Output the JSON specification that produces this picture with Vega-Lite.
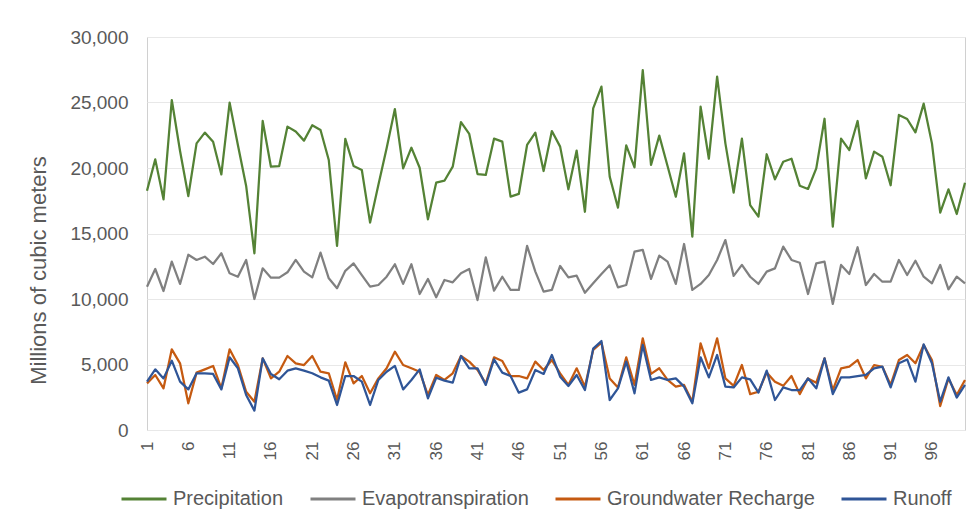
{
"$schema": "https://vega.github.io/schema/vega-lite/v6.json",
"width": 818, "height": 393,
"autosize": {"type": "none"},
"padding": {"left": 147, "top": 37, "right": 12, "bottom": 100},
"background": "white",
"config": {"view": {"stroke": "#d0d0d0", "strokeWidth": 1}, "font": "Liberation Sans"},
"data": {"values": [
{"t":1,"Precipitation":18270,"Evapotranspiration":10940,"Groundwater Recharge":3560,"Runoff":3690},
{"t":2,"Precipitation":20660,"Evapotranspiration":12290,"Groundwater Recharge":4200,"Runoff":4630},
{"t":3,"Precipitation":17610,"Evapotranspiration":10610,"Groundwater Recharge":3180,"Runoff":3940},
{"t":4,"Precipitation":25190,"Evapotranspiration":12850,"Groundwater Recharge":6160,"Runoff":5290},
{"t":5,"Precipitation":21300,"Evapotranspiration":11150,"Groundwater Recharge":5090,"Runoff":3690},
{"t":6,"Precipitation":17860,"Evapotranspiration":13380,"Groundwater Recharge":2040,"Runoff":3100},
{"t":7,"Precipitation":21880,"Evapotranspiration":12980,"Groundwater Recharge":4380,"Runoff":4330},
{"t":8,"Precipitation":22700,"Evapotranspiration":13230,"Groundwater Recharge":4630,"Runoff":4330},
{"t":9,"Precipitation":22010,"Evapotranspiration":12670,"Groundwater Recharge":4890,"Runoff":4280},
{"t":10,"Precipitation":19510,"Evapotranspiration":13490,"Groundwater Recharge":3180,"Runoff":3100},
{"t":11,"Precipitation":24990,"Evapotranspiration":11960,"Groundwater Recharge":6160,"Runoff":5550},
{"t":12,"Precipitation":21760,"Evapotranspiration":11700,"Groundwater Recharge":4960,"Runoff":4710},
{"t":13,"Precipitation":18630,"Evapotranspiration":12980,"Groundwater Recharge":2920,"Runoff":2670},
{"t":14,"Precipitation":13490,"Evapotranspiration":10000,"Groundwater Recharge":2160,"Runoff":1480},
{"t":15,"Precipitation":23590,"Evapotranspiration":12340,"Groundwater Recharge":5470,"Runoff":5470},
{"t":16,"Precipitation":20100,"Evapotranspiration":11630,"Groundwater Recharge":3940,"Runoff":4280},
{"t":17,"Precipitation":20150,"Evapotranspiration":11630,"Groundwater Recharge":4450,"Runoff":3870},
{"t":18,"Precipitation":23160,"Evapotranspiration":12040,"Groundwater Recharge":5650,"Runoff":4530},
{"t":19,"Precipitation":22780,"Evapotranspiration":12980,"Groundwater Recharge":5090,"Runoff":4710},
{"t":20,"Precipitation":22090,"Evapotranspiration":12090,"Groundwater Recharge":4960,"Runoff":4530},
{"t":21,"Precipitation":23260,"Evapotranspiration":11650,"Groundwater Recharge":5650,"Runoff":4330},
{"t":22,"Precipitation":22900,"Evapotranspiration":13540,"Groundwater Recharge":4450,"Runoff":4020},
{"t":23,"Precipitation":20610,"Evapotranspiration":11580,"Groundwater Recharge":4330,"Runoff":3770},
{"t":24,"Precipitation":14050,"Evapotranspiration":10820,"Groundwater Recharge":2290,"Runoff":1910},
{"t":25,"Precipitation":22220,"Evapotranspiration":12150,"Groundwater Recharge":5170,"Runoff":4120},
{"t":26,"Precipitation":20150,"Evapotranspiration":12720,"Groundwater Recharge":3560,"Runoff":4120},
{"t":27,"Precipitation":19850,"Evapotranspiration":11830,"Groundwater Recharge":4120,"Runoff":3690},
{"t":28,"Precipitation":15830,"Evapotranspiration":10940,"Groundwater Recharge":2800,"Runoff":1910},
{"t":29,"Precipitation":18700,"Evapotranspiration":11070,"Groundwater Recharge":3940,"Runoff":3820},
{"t":30,"Precipitation":21500,"Evapotranspiration":11700,"Groundwater Recharge":4710,"Runoff":4450},
{"t":31,"Precipitation":24500,"Evapotranspiration":12650,"Groundwater Recharge":5980,"Runoff":4890},
{"t":32,"Precipitation":19970,"Evapotranspiration":11150,"Groundwater Recharge":4960,"Runoff":3100},
{"t":33,"Precipitation":21550,"Evapotranspiration":12650,"Groundwater Recharge":4710,"Runoff":3820},
{"t":34,"Precipitation":20020,"Evapotranspiration":10380,"Groundwater Recharge":4450,"Runoff":4630},
{"t":35,"Precipitation":16080,"Evapotranspiration":11530,"Groundwater Recharge":2670,"Runoff":2420},
{"t":36,"Precipitation":18880,"Evapotranspiration":10130,"Groundwater Recharge":4200,"Runoff":3990},
{"t":37,"Precipitation":19030,"Evapotranspiration":11450,"Groundwater Recharge":3820,"Runoff":3770},
{"t":38,"Precipitation":20100,"Evapotranspiration":11270,"Groundwater Recharge":4330,"Runoff":3610},
{"t":39,"Precipitation":23510,"Evapotranspiration":11960,"Groundwater Recharge":5650,"Runoff":5650},
{"t":40,"Precipitation":22600,"Evapotranspiration":12290,"Groundwater Recharge":5220,"Runoff":4710},
{"t":41,"Precipitation":19540,"Evapotranspiration":9920,"Groundwater Recharge":4580,"Runoff":4710},
{"t":42,"Precipitation":19470,"Evapotranspiration":13180,"Groundwater Recharge":3560,"Runoff":3440},
{"t":43,"Precipitation":22240,"Evapotranspiration":10640,"Groundwater Recharge":5550,"Runoff":5390},
{"t":44,"Precipitation":22010,"Evapotranspiration":11700,"Groundwater Recharge":5270,"Runoff":4380},
{"t":45,"Precipitation":17810,"Evapotranspiration":10690,"Groundwater Recharge":4120,"Runoff":4120},
{"t":46,"Precipitation":18020,"Evapotranspiration":10690,"Groundwater Recharge":4120,"Runoff":2850},
{"t":47,"Precipitation":21760,"Evapotranspiration":14050,"Groundwater Recharge":3940,"Runoff":3100},
{"t":48,"Precipitation":22700,"Evapotranspiration":12090,"Groundwater Recharge":5220,"Runoff":4580},
{"t":49,"Precipitation":19770,"Evapotranspiration":10560,"Groundwater Recharge":4580,"Runoff":4280},
{"t":50,"Precipitation":22820,"Evapotranspiration":10690,"Groundwater Recharge":5340,"Runoff":5730},
{"t":51,"Precipitation":21630,"Evapotranspiration":12520,"Groundwater Recharge":4330,"Runoff":4070},
{"t":52,"Precipitation":18370,"Evapotranspiration":11650,"Groundwater Recharge":3440,"Runoff":3360},
{"t":53,"Precipitation":21330,"Evapotranspiration":11780,"Groundwater Recharge":4710,"Runoff":4200},
{"t":54,"Precipitation":16660,"Evapotranspiration":10480,"Groundwater Recharge":3310,"Runoff":3050},
{"t":55,"Precipitation":24550,"Evapotranspiration":11200,"Groundwater Recharge":6110,"Runoff":6210},
{"t":56,"Precipitation":26210,"Evapotranspiration":11910,"Groundwater Recharge":6670,"Runoff":6790},
{"t":57,"Precipitation":19340,"Evapotranspiration":12570,"Groundwater Recharge":3940,"Runoff":2290},
{"t":58,"Precipitation":16970,"Evapotranspiration":10890,"Groundwater Recharge":3250,"Runoff":3180},
{"t":59,"Precipitation":21730,"Evapotranspiration":11070,"Groundwater Recharge":5550,"Runoff":5220},
{"t":60,"Precipitation":20050,"Evapotranspiration":13610,"Groundwater Recharge":3440,"Runoff":2800},
{"t":61,"Precipitation":27480,"Evapotranspiration":13750,"Groundwater Recharge":7000,"Runoff":6490},
{"t":62,"Precipitation":20230,"Evapotranspiration":11530,"Groundwater Recharge":4280,"Runoff":3820},
{"t":63,"Precipitation":22470,"Evapotranspiration":13310,"Groundwater Recharge":4710,"Runoff":4020},
{"t":64,"Precipitation":20150,"Evapotranspiration":12850,"Groundwater Recharge":3820,"Runoff":3820},
{"t":65,"Precipitation":17810,"Evapotranspiration":11150,"Groundwater Recharge":3310,"Runoff":3940},
{"t":66,"Precipitation":21120,"Evapotranspiration":14200,"Groundwater Recharge":3440,"Runoff":3310},
{"t":67,"Precipitation":14760,"Evapotranspiration":10690,"Groundwater Recharge":2160,"Runoff":2040},
{"t":68,"Precipitation":24680,"Evapotranspiration":11150,"Groundwater Recharge":6620,"Runoff":5550},
{"t":69,"Precipitation":20710,"Evapotranspiration":11830,"Groundwater Recharge":4710,"Runoff":4020},
{"t":70,"Precipitation":26970,"Evapotranspiration":12980,"Groundwater Recharge":7000,"Runoff":5730},
{"t":71,"Precipitation":21880,"Evapotranspiration":14500,"Groundwater Recharge":3940,"Runoff":3310},
{"t":72,"Precipitation":18120,"Evapotranspiration":11760,"Groundwater Recharge":3370,"Runoff":3250},
{"t":73,"Precipitation":22240,"Evapotranspiration":12600,"Groundwater Recharge":4960,"Runoff":4020},
{"t":74,"Precipitation":17170,"Evapotranspiration":11700,"Groundwater Recharge":2740,"Runoff":3870},
{"t":75,"Precipitation":16290,"Evapotranspiration":11150,"Groundwater Recharge":2920,"Runoff":2850},
{"t":76,"Precipitation":21050,"Evapotranspiration":12090,"Groundwater Recharge":4380,"Runoff":4530},
{"t":77,"Precipitation":19130,"Evapotranspiration":12340,"Groundwater Recharge":3690,"Runoff":2290},
{"t":78,"Precipitation":20480,"Evapotranspiration":14000,"Groundwater Recharge":3370,"Runoff":3250},
{"t":79,"Precipitation":20710,"Evapotranspiration":12980,"Groundwater Recharge":4120,"Runoff":3050},
{"t":80,"Precipitation":18650,"Evapotranspiration":12770,"Groundwater Recharge":2740,"Runoff":3050},
{"t":81,"Precipitation":18400,"Evapotranspiration":10380,"Groundwater Recharge":3940,"Runoff":3940},
{"t":82,"Precipitation":19970,"Evapotranspiration":12720,"Groundwater Recharge":3610,"Runoff":3180},
{"t":83,"Precipitation":23760,"Evapotranspiration":12850,"Groundwater Recharge":5470,"Runoff":5470},
{"t":84,"Precipitation":15520,"Evapotranspiration":9620,"Groundwater Recharge":3050,"Runoff":2740},
{"t":85,"Precipitation":22240,"Evapotranspiration":12600,"Groundwater Recharge":4710,"Runoff":4020},
{"t":86,"Precipitation":21370,"Evapotranspiration":11910,"Groundwater Recharge":4830,"Runoff":4020},
{"t":87,"Precipitation":23590,"Evapotranspiration":13950,"Groundwater Recharge":5340,"Runoff":4120},
{"t":88,"Precipitation":19210,"Evapotranspiration":11070,"Groundwater Recharge":3940,"Runoff":4200},
{"t":89,"Precipitation":21250,"Evapotranspiration":11910,"Groundwater Recharge":4960,"Runoff":4710},
{"t":90,"Precipitation":20860,"Evapotranspiration":11320,"Groundwater Recharge":4830,"Runoff":4830},
{"t":91,"Precipitation":18680,"Evapotranspiration":11320,"Groundwater Recharge":3440,"Runoff":3250},
{"t":92,"Precipitation":24050,"Evapotranspiration":12980,"Groundwater Recharge":5340,"Runoff":5090},
{"t":93,"Precipitation":23740,"Evapotranspiration":11830,"Groundwater Recharge":5730,"Runoff":5390},
{"t":94,"Precipitation":22720,"Evapotranspiration":12920,"Groundwater Recharge":5090,"Runoff":3690},
{"t":95,"Precipitation":24910,"Evapotranspiration":11700,"Groundwater Recharge":6490,"Runoff":6540},
{"t":96,"Precipitation":21880,"Evapotranspiration":11200,"Groundwater Recharge":5340,"Runoff":5090},
{"t":97,"Precipitation":16590,"Evapotranspiration":12600,"Groundwater Recharge":1830,"Runoff":2160},
{"t":98,"Precipitation":18370,"Evapotranspiration":10740,"Groundwater Recharge":3940,"Runoff":4020},
{"t":99,"Precipitation":16490,"Evapotranspiration":11700,"Groundwater Recharge":2670,"Runoff":2480},
{"t":100,"Precipitation":18880,"Evapotranspiration":11200,"Groundwater Recharge":3820,"Runoff":3440}
]},
"transform": [{"fold": ["Precipitation", "Evapotranspiration", "Groundwater Recharge", "Runoff"], "as": ["series", "value"]}],
"mark": {"type": "line", "strokeWidth": 2.25, "strokeJoin": "round"},
"encoding": {
  "x": {"field": "t", "type": "ordinal", "scale": {"type": "point", "padding": 0},
        "axis": {"values": [1,6,11,16,21,26,31,36,41,46,51,56,61,66,71,76,81,86,91,96], "labelAngle": 270, "ticks": false, "domain": false, "grid": false, "title": null, "labelFontSize": 17, "labelColor": "#595959", "labelPadding": 11}},
  "y": {"field": "value", "type": "quantitative", "scale": {"domain": [0, 30000], "nice": false},
        "axis": {"values": [0,5000,10000,15000,20000,25000,30000], "format": ",d", "title": "Millions of cubic meters", "ticks": false, "domain": false, "gridColor": "#e8e8e8", "labelFontSize": 19, "labelColor": "#595959", "labelPadding": 19, "titleFontSize": 22, "titleFontWeight": "normal", "titleColor": "#595959", "titleX": -109, "titleY": 233, "titleAngle": 270, "titleBaseline": "middle", "titleAlign": "center"}},
  "color": {"field": "series", "type": "nominal",
        "scale": {"domain": ["Precipitation", "Evapotranspiration", "Groundwater Recharge", "Runoff"], "range": ["#548235", "#808080", "#C55A11", "#2F5597"]},
        "legend": {"orient": "none", "legendX": -27, "legendY": 438, "direction": "horizontal", "title": null, "symbolType": "stroke", "symbolSize": 2025, "symbolStrokeWidth": 3, "labelFontSize": 20, "labelLimit": 400, "labelColor": "#595959", "columnPadding": 20, "labelOffset": 5}}
}
}
